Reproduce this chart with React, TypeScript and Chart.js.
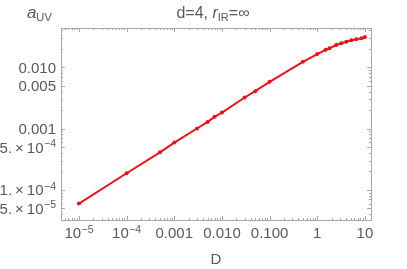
import React, { useEffect, useRef } from "react";
import { Chart, registerables } from "chart.js";

Chart.register(...registerables);

const dValues = [1e-5, 1e-4, 5e-4, 0.001, 0.003, 0.005, 0.007, 0.01, 0.03, 0.05, 0.1, 0.5, 1, 1.5, 1.8, 2.5, 3.2, 4.1, 5.2, 6.6, 8.5, 10];
const aUVValues = [6.0e-5, 1.87e-4, 4.1e-4, 5.9e-4, 1.0e-3, 1.28e-3, 1.55e-3, 1.82e-3, 3.2e-3, 4.06e-3, 5.75e-3, 0.0122, 0.0163, 0.0191, 0.0202, 0.0229, 0.0244, 0.0259, 0.0273, 0.0283, 0.0294, 0.0309];

const xTickValues = [1e-5, 1e-4, 0.001, 0.01, 0.1, 1, 10];
const xTickBase = ["10", "10", "0.001", "0.010", "0.100", "1", "10"];
const xTickSup = ["−5", "−4", "", "", "", "", ""];
const yTickValues = [5e-5, 1e-4, 5e-4, 0.001, 0.005, 0.01];
const yTickBase = ["5.\u2009×\u200910", "1.\u2009×\u200910", "5.\u2009×\u200910", "0.001", "0.005", "0.010"];
const yTickSup = ["−5", "−4", "−4", "", "", ""];

const X_MIN = 4.2e-6;
const X_MAX = 13.4;
const Y_MIN = 3.24e-5;
const Y_MAX = 0.0433;

const TEXT = "#5a5a5a";
const FRAME = "#a8a8a8";
const FONT = "'Liberation Sans', Arial, sans-serif";
const BASE_FONT = `15px ${FONT}`;
const SUP_FONT = `10.5px ${FONT}`;

function minorValues(min: number, max: number): number[] {
  const out: number[] = [];
  for (let e = -7; e <= 2; e++) {
    for (let k = 1; k <= 9; k++) {
      const v = k * Math.pow(10, e);
      if (v >= min && v <= max) out.push(v);
    }
  }
  return out;
}

function drawSupLabel(ctx: any, base: string, sup: string, x: number, y: number, align: "center" | "right") {
  ctx.font = BASE_FONT;
  const wb = ctx.measureText(base).width;
  ctx.font = SUP_FONT;
  const ws = sup ? ctx.measureText(sup).width + 0.5 : 0;
  const total = wb + ws;
  const start = align === "center" ? x - total / 2 : x - total;
  ctx.textAlign = "left";
  ctx.font = BASE_FONT;
  ctx.fillText(base, start, y);
  if (sup) {
    ctx.font = SUP_FONT;
    ctx.fillText(sup, start + wb + 0.5, y - 5.5);
  }
}

const framePlugin = {
  id: "frame",
  afterDraw(chart: any) {
    const { ctx, chartArea } = chart;
    const { left, right, top, bottom } = chartArea;
    const xs = chart.scales.x;
    const ys = chart.scales.y;
    ctx.save();
    ctx.strokeStyle = FRAME;
    ctx.lineWidth = 1;
    ctx.strokeRect(left + 0.5, top + 0.5, right - left, bottom - top);
    ctx.beginPath();
    for (const v of minorValues(X_MIN, X_MAX)) {
      const px = Math.round(xs.getPixelForValue(v)) + 0.5;
      const decade = Math.abs(Math.log10(v) - Math.round(Math.log10(v))) < 1e-6;
      const len = decade ? 4 : 2;
      ctx.moveTo(px, bottom);
      ctx.lineTo(px, bottom - len);
      ctx.moveTo(px, top);
      ctx.lineTo(px, top + len);
    }
    for (const v of minorValues(Y_MIN, Y_MAX)) {
      const py = Math.round(ys.getPixelForValue(v)) + 0.5;
      const major = yTickValues.some((m) => Math.abs(m - v) / m < 1e-6);
      const len = major ? 4 : 2;
      ctx.moveTo(left, py);
      ctx.lineTo(left + len, py);
      ctx.moveTo(right, py);
      ctx.lineTo(right - len, py);
    }
    ctx.stroke();

    ctx.fillStyle = TEXT;
    ctx.textBaseline = "alphabetic";

    // tick labels
    xTickValues.forEach((v, i) => {
      drawSupLabel(ctx, xTickBase[i], xTickSup[i], xs.getPixelForValue(v), bottom + 18, "center");
    });
    yTickValues.forEach((v, i) => {
      drawSupLabel(ctx, yTickBase[i], yTickSup[i], left - 5, ys.getPixelForValue(v) + 5.5, "right");
    });

    // axis label a_UV
    ctx.textAlign = "left";
    ctx.font = `italic 17px ${FONT}`;
    ctx.fillText("a", 27, 18);
    ctx.font = `11.5px ${FONT}`;
    ctx.fillText("UV", 36, 21);

    // title
    const parts = [
      { t: "d=4, ", f: `16px ${FONT}`, dy: 0 },
      { t: "r", f: `italic 16px ${FONT}`, dy: 0 },
      { t: "IR", f: `11px ${FONT}`, dy: 3 },
      { t: "=∞", f: `16px ${FONT}`, dy: 0 },
    ];
    let total = 0;
    for (const p of parts) {
      ctx.font = p.f;
      total += ctx.measureText(p.t).width;
    }
    let x = 213 - total / 2;
    for (const p of parts) {
      ctx.font = p.f;
      ctx.fillText(p.t, x, 18 + p.dy);
      x += ctx.measureText(p.t).width;
    }

    // x axis title
    ctx.textAlign = "center";
    ctx.font = `15px ${FONT}`;
    ctx.fillText("D", 216, 264);
    ctx.restore();
  },
};

export default function App() {
  const ref = useRef<HTMLCanvasElement | null>(null);
  useEffect(() => {
    if (!ref.current) return;
    const chart = new Chart(ref.current, {
      type: "line",
      data: {
        datasets: [
          {
            data: dValues.map((d, i) => ({ x: d, y: aUVValues[i] })),
            borderColor: "#e8141a",
            backgroundColor: "#e8141a",
            borderWidth: 2,
            pointRadius: 2,
            pointHoverRadius: 2,
            pointBorderWidth: 0,
            tension: 0,
          },
        ],
      },
      options: {
        animation: false,
        responsive: false,
        maintainAspectRatio: false,
        layout: { padding: { top: 28, right: 36, left: 0, bottom: 0 } },
        plugins: { legend: { display: false }, title: { display: false }, tooltip: { enabled: false } },
        scales: {
          x: {
            type: "logarithmic",
            min: X_MIN,
            max: X_MAX,
            border: { display: false },
            grid: { display: false, drawTicks: false },
            afterBuildTicks: (scale: any) => {
              scale.ticks = xTickValues.map((v) => ({ value: v }));
            },
            afterFit: (scale: any) => {
              scale.height = 49;
            },
            ticks: { display: false, autoSkip: false },
          },
          y: {
            type: "logarithmic",
            min: Y_MIN,
            max: Y_MAX,
            border: { display: false },
            grid: { display: false, drawTicks: false },
            afterBuildTicks: (scale: any) => {
              scale.ticks = yTickValues.map((v) => ({ value: v }));
            },
            afterFit: (scale: any) => {
              scale.width = 61;
            },
            ticks: { display: false, autoSkip: false },
          },
        },
      },
      plugins: [framePlugin],
    } as any);
    return () => chart.destroy();
  }, []);
  return (
    <div style={{ position: "fixed", left: 0, top: 0, width: 407, height: 269, background: "#fff" }}>
      <canvas ref={ref} width={407} height={269} style={{ width: 407, height: 269 }} />
    </div>
  );
}
